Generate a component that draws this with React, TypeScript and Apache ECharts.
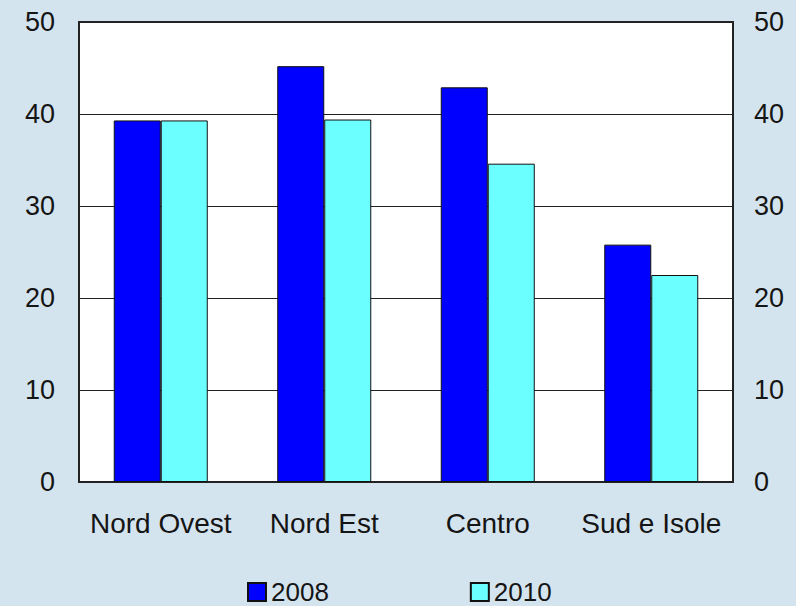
import React, { useEffect, useRef } from "react";
import * as echarts from "echarts";

const categories = ["Nord Ovest", "Nord Est", "Centro", "Sud e Isole"];
const series2008 = [39.3, 45.2, 42.9, 25.8];
const series2010 = [39.3, 39.4, 34.6, 22.5];
const seriesNames = ["2008", "2010"];

const FONT = "'Liberation Sans', Arial, sans-serif";
const TEXT_COLOR = "#151515";

export default function App() {
  const ref = useRef<HTMLDivElement>(null);
  useEffect(() => {
    if (!ref.current) return;
    const chart = echarts.init(ref.current, null, { renderer: "svg" });
    const yAxisBase = {
      type: "value",
      min: 0,
      max: 50,
      interval: 10,
      axisLine: { show: false },
      axisTick: { show: false },
    };
    chart.setOption({
      animation: false,
      backgroundColor: "#d4e4ee",
      textStyle: { fontFamily: FONT },
      grid: {
        left: 79,
        right: 63,
        top: 22,
        bottom: 124,
        show: true,
        backgroundColor: "#ffffff",
        borderColor: "#222",
        borderWidth: 2,
      },
      legend: {
        left: 247,
        top: 579,
        padding: 0,
        itemWidth: 18,
        itemHeight: 18,
        itemGap: 141,
        itemTextGap: 6,
        icon: "rect",
        textStyle: { fontSize: 26, lineHeight: 26, color: TEXT_COLOR, fontFamily: FONT },
        data: seriesNames,
      },
      xAxis: {
        type: "category",
        data: categories,
        axisLine: { show: false },
        axisTick: { show: false },
        axisLabel: {
          interval: 0,
          fontSize: 28,
          color: TEXT_COLOR,
          margin: 27,
          fontFamily: FONT,
        },
      },
      yAxis: [
        {
          ...yAxisBase,
          position: "left",
          splitLine: { show: true, lineStyle: { color: "#222", width: 1 } },
          axisLabel: { fontSize: 27, color: TEXT_COLOR, margin: 24, fontFamily: FONT },
        },
        {
          ...yAxisBase,
          position: "right",
          splitLine: { show: false },
          axisLabel: { fontSize: 27, color: TEXT_COLOR, margin: 21, fontFamily: FONT },
        },
      ],
      series: [
        {
          name: seriesNames[0],
          type: "bar",
          data: series2008,
          barWidth: 47,
          barGap: "0%",
          itemStyle: { color: "#0000ff", borderColor: "#111", borderWidth: 1 },
        },
        {
          name: seriesNames[1],
          type: "bar",
          data: series2010,
          barWidth: 47,
          barGap: "0%",
          itemStyle: { color: "#6bffff", borderColor: "#111", borderWidth: 1 },
        },
      ],
    });
    return () => chart.dispose();
  }, []);
  return (
    <div
      ref={ref}
      style={{ position: "absolute", left: 0, top: 0, width: 796, height: 606 }}
    />
  );
}
